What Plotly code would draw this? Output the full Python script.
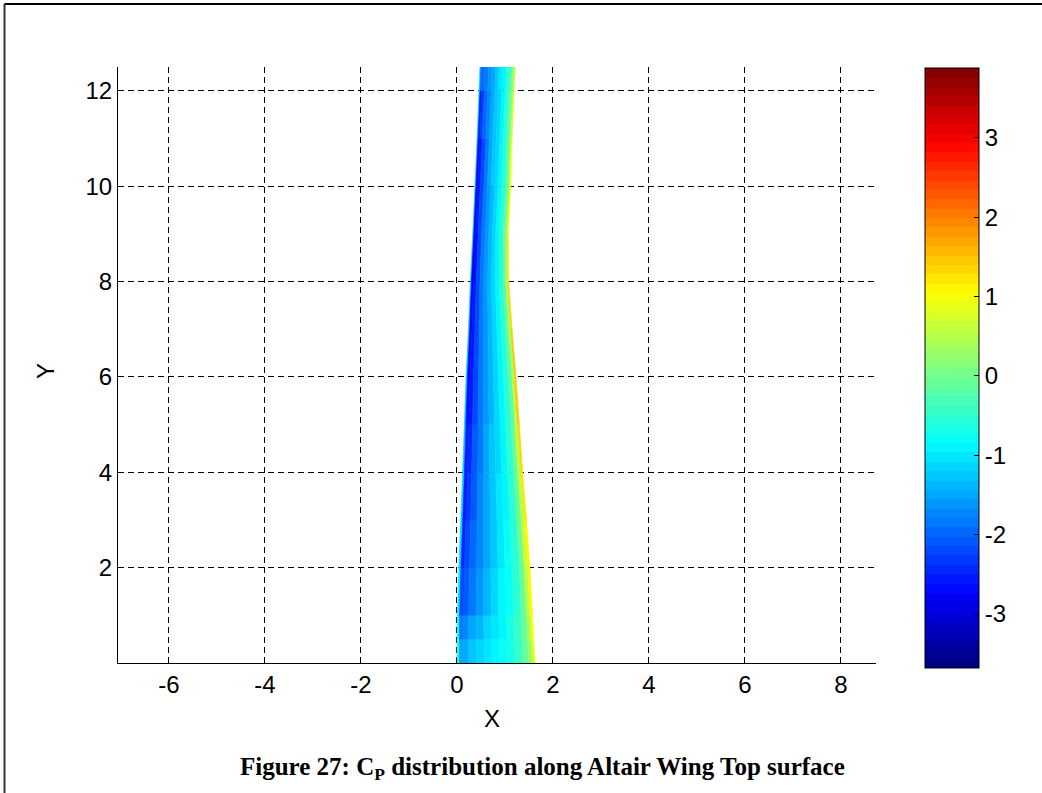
import plotly.graph_objects as go

# ---------------- data ----------------
SPAN_Y = [0.0, 0.5, 1.0, 2.0, 3.0, 4.0, 5.0, 6.0, 7.0, 8.0, 9.0, 10.0, 11.0, 12.0, 12.6]
LE_X = [0.00, 0.005, 0.01, 0.04, 0.08, 0.12, 0.155, 0.19, 0.24, 0.28, 0.33, 0.375, 0.42, 0.46, 0.48]
TE_X = [1.63, 1.60, 1.575, 1.52, 1.45, 1.37, 1.30, 1.23, 1.15, 1.08, 1.07, 1.12, 1.15, 1.19, 1.22]
CHORD_FRAC = [0.0, 0.03, 0.08, 0.15, 0.25, 0.35, 0.45, 0.55, 0.65, 0.75, 0.85, 0.92, 0.97, 1.0]

# Cp per spanwise band (rows) and chordwise cell (columns), leading edge -> trailing edge
CP = [
    [-0.6, -1.5, -1.45, -1.3, -1.15, -1.0, -0.9, -0.8, -0.65, -0.4, -0.1, 0.3, 0.9],
    [-0.9, -1.9, -1.75, -1.55, -1.35, -1.15, -1.0, -0.85, -0.7, -0.45, -0.1, 0.4, 1.0],
    [-1.0, -2.2, -2.05, -1.85, -1.6, -1.35, -1.15, -0.95, -0.75, -0.5, -0.05, 0.5, 1.1],
    [-1.1, -2.4, -2.2, -2.0, -1.7, -1.45, -1.25, -1.05, -0.8, -0.55, -0.05, 0.6, 1.1],
    [-1.1, -2.5, -2.3, -2.05, -1.75, -1.5, -1.3, -1.05, -0.85, -0.55, -0.1, 0.55, 1.2],
    [-1.2, -2.6, -2.4, -2.1, -1.8, -1.55, -1.3, -1.1, -0.85, -0.6, -0.1, 0.5, 1.3],
    [-1.2, -2.7, -2.5, -2.15, -1.85, -1.6, -1.35, -1.1, -0.85, -0.6, -0.15, 0.5, 1.4],
    [-1.2, -2.8, -2.55, -2.2, -1.9, -1.6, -1.35, -1.1, -0.9, -0.6, -0.15, 0.4, 1.4],
    [-1.3, -2.85, -2.6, -2.25, -1.9, -1.65, -1.4, -1.15, -0.9, -0.6, -0.2, 0.4, 1.3],
    [-1.3, -2.9, -2.65, -2.25, -1.9, -1.65, -1.4, -1.15, -0.9, -0.6, -0.2, 0.3, 1.2],
    [-1.3, -2.9, -2.6, -2.2, -1.85, -1.6, -1.35, -1.1, -0.9, -0.6, -0.2, 0.2, 1.1],
    [-1.3, -2.8, -2.55, -2.15, -1.8, -1.55, -1.3, -1.1, -0.9, -0.6, -0.25, 0.2, 1.0],
    [-1.2, -2.5, -2.35, -2.0, -1.75, -1.5, -1.3, -1.1, -0.9, -0.6, -0.25, 0.15, 0.8],
    [-1.0, -2.0, -1.95, -1.8, -1.6, -1.45, -1.25, -1.05, -0.9, -0.6, -0.3, 0.1, 0.6],
]

CMIN, CMAX = -3.68, 3.88
X_TICKS = [-6, -4, -2, 0, 2, 4, 6, 8]
X_TICK_TEXT = ["-6", "-4", "-2", "0", "2", "4", "6", "8"]
Y_TICKS = [2, 4, 6, 8, 10, 12]
Y_TICK_TEXT = ["2", "4", "6", "8", "10", "12"]
CB_TICKS = [-3, -2, -1, 0, 1, 2, 3]
CB_TICK_TEXT = ["-3", "-2", "-1", "0", "1", "2", "3"]
CAPTION = "Figure 27: C<sub>P</sub> distribution along Altair Wing Top surface"

# ---------------- jet(64) colormap ----------------
N_LEVELS = 64


def _clip(v):
    return max(0.0, min(1.0, v))


def jet_rgb(t):
    r = _clip(1.5 - abs(4 * t - 3))
    g = _clip(1.5 - abs(4 * t - 2))
    b = _clip(1.5 - abs(4 * t - 1))
    return "rgb(%d,%d,%d)" % (round(r * 255), round(g * 255), round(b * 255))


JET = [jet_rgb((i + 0.5) / N_LEVELS) for i in range(N_LEVELS)]
JET_SCALE = []
for i, c in enumerate(JET):
    JET_SCALE.append([i / N_LEVELS, c])
    JET_SCALE.append([(i + 1) / N_LEVELS, c])


def color_of(v):
    k = int((v - CMIN) / (CMAX - CMIN) * N_LEVELS)
    k = max(0, min(N_LEVELS - 1, k))
    return JET[k]


def chord_x(j, f):
    return LE_X[j] + f * (TE_X[j] - LE_X[j])


# ---------------- figure ----------------
fig = go.Figure()

for j in range(len(SPAN_Y) - 1):
    for i in range(len(CHORD_FRAC) - 1):
        f0, f1 = CHORD_FRAC[i], CHORD_FRAC[i + 1]
        xs = [chord_x(j, f0), chord_x(j, f1), chord_x(j + 1, f1), chord_x(j + 1, f0), chord_x(j, f0)]
        ys = [SPAN_Y[j], SPAN_Y[j], SPAN_Y[j + 1], SPAN_Y[j + 1], SPAN_Y[j]]
        col = color_of(CP[j][i])
        fig.add_trace(go.Scatter(x=xs, y=ys, mode="lines", fill="toself", fillcolor=col,
                                 line=dict(color=col, width=0.6), hoverinfo="skip",
                                 showlegend=False))

# colour bar carrier
fig.add_trace(go.Scatter(
    x=[None], y=[None], mode="markers", showlegend=False, hoverinfo="skip",
    marker=dict(color=[CMIN], cmin=CMIN, cmax=CMAX, colorscale=JET_SCALE, showscale=True,
                colorbar=dict(
                    x=(925 - 118) / 758, xanchor="left", xpad=0,
                    y=(663 - 68) / 596, yanchor="top", ypad=0,
                    len=600, lenmode="pixels",
                    thickness=54, thicknessmode="pixels",
                    outlinecolor="black", outlinewidth=1,
                    tickvals=CB_TICKS, ticktext=CB_TICK_TEXT,
                    ticks="inside", ticklen=5, tickcolor="black",
                    tickfont=dict(family="Liberation Sans, Arial", size=24, color="black"),
                ))))

axis_common = dict(
    showline=True, linecolor="black", linewidth=1, mirror=False,
    ticks="inside", ticklen=5, tickcolor="black",
    showgrid=True, gridcolor="black", gridwidth=1, griddash="6px,4px",
    zeroline=False,
    tickfont=dict(family="Liberation Sans, Arial", size=24, color="black"),
)

fig.update_xaxes(range=[-7.06, 8.73], tickvals=X_TICKS, ticktext=X_TICK_TEXT, **axis_common)
fig.update_yaxes(range=[0, 12.5], tickvals=Y_TICKS, ticktext=Y_TICK_TEXT, **axis_common)

fig.update_layout(
    width=1042, height=793,
    margin=dict(l=118, r=166, t=67, b=130),
    paper_bgcolor="white", plot_bgcolor="white",
    font=dict(family="Liberation Sans, Arial", size=24, color="black"),
)


def px_x(p):
    return (p - 118) / 758


def px_y(p):
    return (663 - p) / 596


fig.add_annotation(x=px_x(492), y=px_y(718), xref="paper", yref="paper", text="X",
                   showarrow=False, xanchor="center", yanchor="middle",
                   font=dict(family="Liberation Sans, Arial", size=24, color="black"))
fig.add_annotation(x=px_x(46), y=px_y(371), xref="paper", yref="paper", text="Y",
                   textangle=-90, showarrow=False, xanchor="center", yanchor="middle",
                   font=dict(family="Liberation Sans, Arial", size=24, color="black"))
fig.add_annotation(x=px_x(542), y=px_y(768), xref="paper", yref="paper", text="<b>" + CAPTION + "</b>",
                   showarrow=False, xanchor="center", yanchor="middle",
                   font=dict(family="Liberation Serif, Times New Roman", size=25, color="black"))

# figure frame (top and left edges)
fig.add_shape(type="line", xref="paper", yref="paper", x0=px_x(4.5), x1=px_x(1045),
              y0=px_y(4), y1=px_y(4), line=dict(color="black", width=2))
fig.add_shape(type="line", xref="paper", yref="paper", x0=px_x(4.5), x1=px_x(4.5),
              y0=px_y(4), y1=px_y(800), line=dict(color="#333333", width=2))

fig.write_html("out.html")
